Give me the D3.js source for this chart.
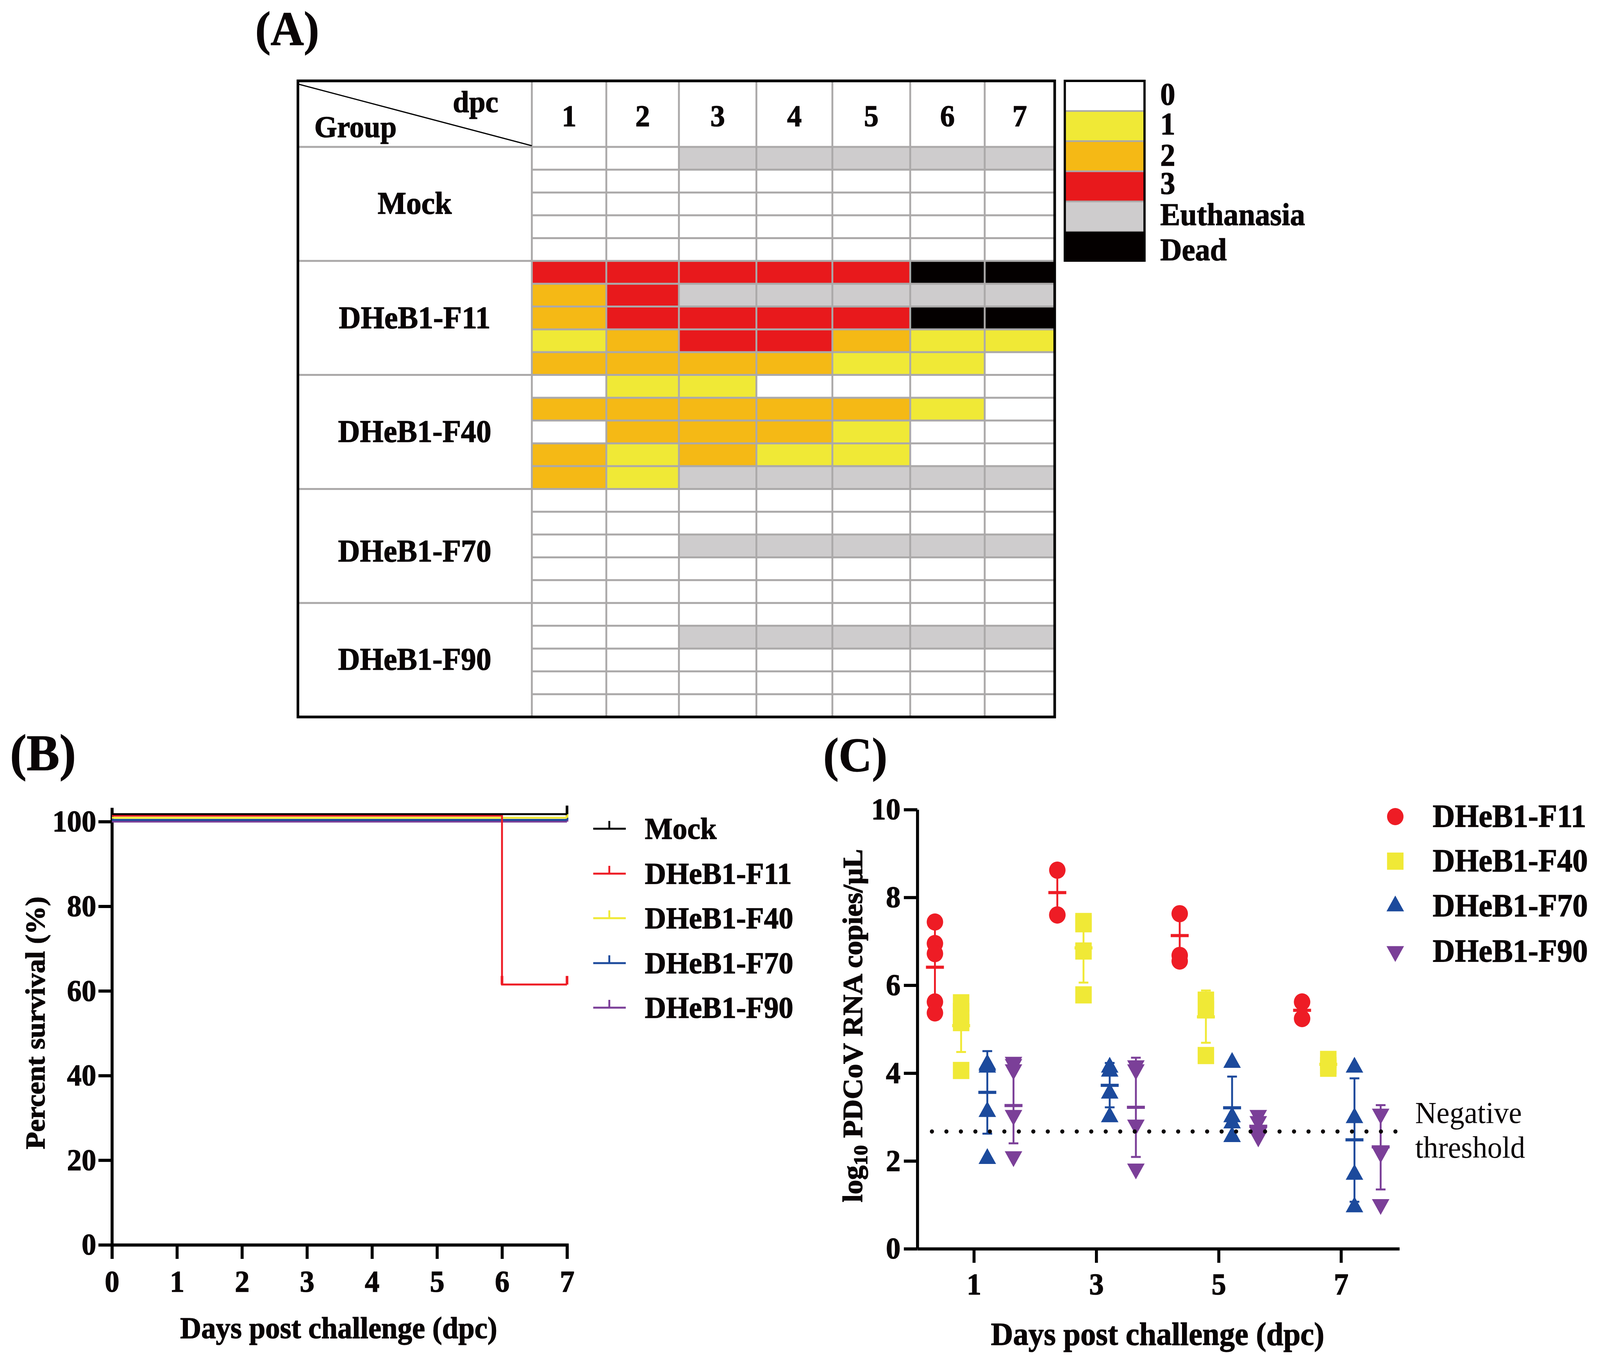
<!DOCTYPE html>
<html>
<head>
<meta charset="utf-8">
<script src="https://cdn.jsdelivr.net/npm/d3@7"></script>
<style>
  html, body { margin: 0; background: #fff; }
  text { font-family: "Liberation Serif", serif; font-weight: bold; fill: #0a0506; stroke: #0a0506; stroke-width: 1.5px; }
  text.plain { font-weight: normal; stroke: none; }
</style>
</head>
<body>
<div id="chart"></div>
<script>
// ---- panel A: clinical score table
const dpcLabels = ['1', '2', '3', '4', '5', '6', '7'];
const groupLabels = ['Mock', 'DHeB1-F11', 'DHeB1-F40', 'DHeB1-F70', 'DHeB1-F90'];
const scoreLabels = ['0', '1', '2', '3', 'Euthanasia', 'Dead'];
// 4 = euthanasia, 5 = dead
const mockScores = [
  [0, 0, 4, 4, 4, 4, 4],
  [0, 0, 0, 0, 0, 0, 0],
  [0, 0, 0, 0, 0, 0, 0],
  [0, 0, 0, 0, 0, 0, 0],
  [0, 0, 0, 0, 0, 0, 0]
];
const f11Scores = [
  [3, 3, 3, 3, 3, 5, 5],
  [2, 3, 4, 4, 4, 4, 4],
  [2, 3, 3, 3, 3, 5, 5],
  [1, 2, 3, 3, 2, 1, 1],
  [2, 2, 2, 2, 1, 1, 0]
];
const f40Scores = [
  [0, 1, 1, 0, 0, 0, 0],
  [2, 2, 2, 2, 2, 1, 0],
  [0, 2, 2, 2, 1, 0, 0],
  [2, 1, 2, 1, 1, 0, 0],
  [2, 1, 4, 4, 4, 4, 4]
];
const f70Scores = [
  [0, 0, 0, 0, 0, 0, 0],
  [0, 0, 0, 0, 0, 0, 0],
  [0, 0, 4, 4, 4, 4, 4],
  [0, 0, 0, 0, 0, 0, 0],
  [0, 0, 0, 0, 0, 0, 0]
];
const f90Scores = [
  [0, 0, 0, 0, 0, 0, 0],
  [0, 0, 4, 4, 4, 4, 4],
  [0, 0, 0, 0, 0, 0, 0],
  [0, 0, 0, 0, 0, 0, 0],
  [0, 0, 0, 0, 0, 0, 0]
];
const scoreRows = [mockScores, f11Scores, f40Scores, f70Scores, f90Scores];

// ---- panel B: survival curves
const survivalNames = ['Mock', 'DHeB1-F11', 'DHeB1-F40', 'DHeB1-F70', 'DHeB1-F90'];
const survivalDays = [[0, 7], [0, 6, 7], [0, 7], [0, 7], [0, 7]];
// the flat lines are nudged apart in the figure, so 100 is read a little higher for some
const survivalValues = [[101.75, 101.75], [101.4, 61.5, 61.5], [100.9, 100.9], [100.4, 100.4], [100, 100]];
const survivalCensored = [[7], [6, 7], [7], [7], [7]];
const survivalTicksX = [0, 1, 2, 3, 4, 5, 6, 7];
const survivalTicksY = [0, 20, 40, 60, 80, 100];

// ---- panel C: viral RNA
const rnaNames = ['DHeB1-F11', 'DHeB1-F40', 'DHeB1-F70', 'DHeB1-F90'];
const rnaDays = [1, 3, 5, 7];
const rnaOffsets = [-0.636, -0.208, 0.22, 0.648];
const f11Rna = [[7.44, 6.95, 6.72, 5.62, 5.37], [8.62, 7.6, 7.6], [7.63, 6.68, 6.55], [5.62, 5.24]];
const f40Rna = [[5.6, 5.4, 5.25, 5.15, 4.06], [7.45, 7.4, 6.78, 5.78], [5.66, 5.53, 5.44, 4.4], [4.31, 4.17, 4.11]];
const f70Rna = [[4.2, 4.17, 4.13, 3.12, 2.05], [4.13, 4.04, 3.54, 3.0], [4.24, 3.0, 2.86, 2.55], [4.13, 2.98, 1.69, 0.95]];
const f90Rna = [[4.25, 4.2, 4.08, 3.04, 2.1], [4.17, 4.08, 2.82, 1.82], [3.04, 2.9, 2.64, 2.55], [3.07, 2.19, 1.01]];
const rnaPoints = [f11Rna, f40Rna, f70Rna, f90Rna];
const rnaMeans = [[6.41, 8.11, 7.13, 5.43], [5.08, 6.85, 5.28, 4.2], [3.56, 3.72, 3.21, 2.48], [3.26, 3.22, 2.79, 2.32]];
const rnaUpper = [[7.35, 8.62, 7.63, 5.62], [5.68, 7.62, 5.88, 4.31], [4.5, 4.23, 3.92, 3.88], [4.12, 4.35, 3.05, 3.27]];
const rnaLower = [[5.47, 7.6, 6.6, 5.24], [4.48, 6.06, 4.69, 4.1], [2.62, 3.22, 2.5, 1.07], [2.4, 2.09, 2.55, 1.35]];
const negativeThreshold = 2.67;
const rnaTicksY = [0, 2, 4, 6, 8, 10];

// ---- colours
const scoreColors = ['#ffffff', '#f0e936', '#f5b915', '#e8191c', '#cecccd', '#040000'];
const gridColor = '#aba9a9';
const survivalColors = ['#000000', '#ee1c25', '#f0e936', '#1c4a9c', '#7b3f98'];
const rnaColors = ['#ee1c25', '#f0e936', '#1c4a9c', '#7b3f98'];

// the window can come up narrower than the figure, so the drawing coordinates stay
// in the figure's own 4275x3491 space and the viewBox fits them to whatever is there
const svg = d3.select('#chart').append('svg')
  .attr('viewBox', '0 0 4275 3491')
  .attr('preserveAspectRatio', 'none')
  .style('width', '100vw')
  .style('height', '100vh')
  .style('display', 'block');

const addText = (str, x, y, size, anchor = 'start') => svg.append('text')
  .attr('x', x)
  .attr('y', y)
  .attr('font-size', size)
  .attr('text-anchor', anchor)
  .text(str);

addText('(A)', 682, 115, 123);
addText('(B)', 27, 1971, 132);
addText('(C)', 2200, 1974, 123);

// ------------------ panel A ------------------
const colEdges = [1421, 1620, 1814, 2021, 2224, 2432, 2631, 2818];
const tableLeft = 796;
const tableTop = 207;
const headerBottom = 376;
const tableBottom = 1835;

const colX = d3.scaleLinear().domain(d3.range(8)).range(colEdges);
const rowY = d3.scaleLinear().domain([0, 25]).range([headerBottom, tableBottom]);

const cells = svg.append('g');
scoreRows.forEach((group, g) => {
  group.forEach((row, r) => {
    row.forEach((score, d) => {
      cells.append('rect')
        .attr('x', colX(d))
        .attr('y', rowY(g * 5 + r))
        .attr('width', colX(d + 1) - colX(d))
        .attr('height', rowY(1) - rowY(0))
        .attr('fill', scoreColors[score]);
    });
  });
});

const grid = svg.append('g').attr('stroke', gridColor).attr('fill', 'none');
d3.range(26).forEach((i) => {
  grid.append('line')
    .attr('x1', i % 5 === 0 ? tableLeft : colEdges[0])
    .attr('x2', colEdges[7])
    .attr('y1', rowY(i))
    .attr('y2', rowY(i))
    .attr('stroke-width', 5);
});
d3.range(8).forEach((i) => {
  grid.append('line')
    .attr('x1', colX(i))
    .attr('x2', colX(i))
    .attr('y1', tableTop)
    .attr('y2', tableBottom)
    .attr('stroke-width', 5);
});

svg.append('rect')
  .attr('x', tableLeft)
  .attr('y', tableTop)
  .attr('width', colEdges[7] - tableLeft)
  .attr('height', tableBottom - tableTop)
  .attr('fill', 'none')
  .attr('stroke', '#000')
  .attr('stroke-width', 7);

svg.append('line')
  .attr('x1', tableLeft)
  .attr('y1', 215)
  .attr('x2', colEdges[0])
  .attr('y2', 373)
  .attr('stroke', '#000')
  .attr('stroke-width', 3);

addText('dpc', 1210, 287, 78);
addText('Group', 840, 351, 78);
dpcLabels.forEach((d, i) => addText(d, (colX(i) + colX(i + 1)) / 2, 323, 78, 'middle'));
[547, 840, 1131, 1437, 1714].forEach((y, i) => addText(groupLabels[i], 1108, y, 81, 'middle'));

// score legend
const legendY = d3.scaleLinear().domain([0, 6]).range([207, 670]);
scoreLabels.forEach((label, i) => {
  svg.append('rect')
    .attr('x', 2845)
    .attr('y', legendY(i))
    .attr('width', 213)
    .attr('height', legendY(1) - legendY(0))
    .attr('fill', scoreColors[i])
    .attr('stroke', i === 5 ? 'none' : gridColor)
    .attr('stroke-width', 4);
});
svg.append('path')
  .attr('d', 'M2845,670V207H3058V670')
  .attr('fill', 'none')
  .attr('stroke', '#000')
  .attr('stroke-width', 6);
[268, 344, 424, 496, 576, 666].forEach((y, i) => addText(scoreLabels[i], 3100, y, 80));

// ------------------ panel B ------------------
const styleAxis = (g) => {
  g.selectAll('.domain').attr('stroke', '#000').attr('stroke-width', 8);
  g.selectAll('.tick line').attr('stroke', '#000').attr('stroke-width', 8);
  g.selectAll('text').attr('font-size', 78).attr('font-family', '"Liberation Serif", serif');
};

const survX = d3.scaleLinear().domain([0, 7]).range([299, 1515]);
const survY = d3.scaleLinear().domain([0, 103.3]).range([3186, 2067]);

svg.append('g')
  .attr('transform', 'translate(0,3186)')
  .call(d3.axisBottom(survX).tickValues(survivalTicksX).tickSize(36).tickSizeOuter(36).tickPadding(29).tickFormat(d3.format('d')))
  .call(styleAxis);
svg.append('g')
  .attr('transform', 'translate(299,0)')
  .call(d3.axisLeft(survY).tickValues(survivalTicksY).tickSize(36).tickSizeOuter(0).tickPadding(6).tickFormat(d3.format('d')))
  .call(styleAxis);

const survLine = d3.line()
  .x((d) => survX(d[0]))
  .y((d) => survY(d[1]))
  .curve(d3.curveStepAfter);

// drawn backwards so that Mock ends up on top
d3.range(survivalNames.length - 1, -1, -1).forEach((s) => {
  const pts = survivalDays[s].map((d, i) => [d, survivalValues[s][i]]);
  svg.append('path')
    .datum(pts)
    .attr('d', survLine)
    .attr('fill', 'none')
    .attr('stroke', survivalColors[s])
    .attr('stroke-width', 5);
  survivalCensored[s].forEach((day) => {
    const v = pts.find((p) => p[0] === day)[1];
    svg.append('line')
      .attr('x1', survX(day))
      .attr('x2', survX(day))
      .attr('y1', survY(v))
      .attr('y2', survY(v) - 22)
      .attr('stroke', survivalColors[s])
      .attr('stroke-width', 7);
  });
});

[2121, 2236, 2350, 2465, 2579].forEach((y, i) => {
  svg.append('path')
    .attr('d', `M1585,${y}H1672M1628,${y}V${y - 20}`)
    .attr('fill', 'none')
    .attr('stroke', survivalColors[i])
    .attr('stroke-width', 5);
  addText(survivalNames[i], 1723, y + 26, 78.5);
});

addText('Days post challenge (dpc)', 905, 3425, 78, 'middle');
addText('Percent survival (%)', 0, 0, 73, 'middle')
  .attr('transform', 'translate(119,2618) rotate(-90)');

// ------------------ panel C ------------------
const rnaX = d3.scaleLinear().domain([1, 7]).range([2602, 3583]);
const rnaY = d3.scaleLinear().domain([0, 10]).range([3196, 2072]);

svg.append('g')
  .attr('transform', 'translate(0,3196)')
  .call(d3.axisBottom(rnaX.copy().domain([rnaX.invert(2451), rnaX.invert(3739)]).range([2451, 3739]))
    .tickValues(rnaDays).tickSize(36).tickSizeOuter(0).tickPadding(26).tickFormat(d3.format('d')))
  .call(styleAxis);
svg.append('g')
  .attr('transform', 'translate(2451,0)')
  .call(d3.axisLeft(rnaY).tickValues(rnaTicksY).tickSize(36).tickSizeOuter(0).tickPadding(9).tickFormat(d3.format('d')))
  .call(styleAxis);

const rnaSymbols = [
  d3.symbol(d3.symbolCircle, 1520),
  d3.symbol(d3.symbolSquare, 1936),
  d3.symbol(d3.symbolTriangle, 950),
  d3.symbol(d3.symbolTriangle, 950)
];
const symbolAt = (s, x, y) => svg.append('path')
  .attr('d', rnaSymbols[s]())
  .attr('fill', rnaColors[s])
  .attr('transform', `translate(${x},${y})${s === 3 ? ' rotate(180)' : ''}`);

rnaPoints.forEach((series, s) => {
  series.forEach((vals, d) => {
    const x = rnaX(rnaDays[d] + rnaOffsets[s]);
    vals.forEach((v) => symbolAt(s, x, rnaY(v)));

    const bars = svg.append('g').attr('stroke', rnaColors[s]);
    bars.append('line')
      .attr('x1', x).attr('x2', x)
      .attr('y1', rnaY(rnaUpper[s][d])).attr('y2', rnaY(rnaLower[s][d]))
      .attr('stroke-width', 5);
    [rnaUpper[s][d], rnaLower[s][d]].forEach((v) => {
      bars.append('line')
        .attr('x1', x - 13).attr('x2', x + 13)
        .attr('y1', rnaY(v)).attr('y2', rnaY(v))
        .attr('stroke-width', 5);
    });
    bars.append('line')
      .attr('x1', x - 24).attr('x2', x + 24)
      .attr('y1', rnaY(rnaMeans[s][d])).attr('y2', rnaY(rnaMeans[s][d]))
      .attr('stroke-width', 8);
  });
});

svg.append('line')
  .attr('x1', 2490)
  .attr('x2', 3735)
  .attr('y1', rnaY(negativeThreshold))
  .attr('y2', rnaY(negativeThreshold))
  .attr('stroke', '#0a0506')
  .attr('stroke-width', 11)
  .attr('stroke-linecap', 'round')
  .attr('stroke-dasharray', '0 38.7');

[2090, 2204, 2319, 2435].forEach((y, i) => {
  symbolAt(i, 3728, y);
  addText(rnaNames[i], 3828, y + 26, 82);
});

addText('Negative', 3781, 2874, 79).attr('class', 'plain');
addText('threshold', 3781, 2963, 79).attr('class', 'plain');

addText('Days post challenge (dpc)', 3093, 3442, 82, 'middle');
const rnaTitle = addText('', 0, 0, 74, 'middle')
  .attr('transform', 'translate(2303,2625) rotate(-90)');
rnaTitle.append('tspan').text('log');
rnaTitle.append('tspan').attr('font-size', 52).attr('dy', 14).text('10');
rnaTitle.append('tspan').attr('dy', -14).text(' PDCoV RNA copies/μL');
</script>
</body>
</html>
